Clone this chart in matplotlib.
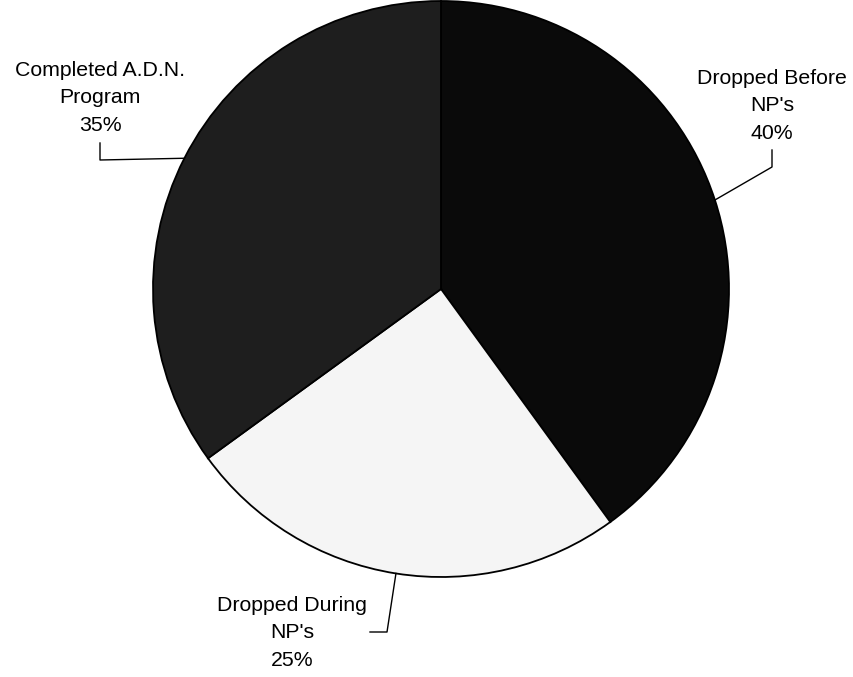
import numpy as np
import matplotlib.pyplot as plt

# pie slices, clockwise from 12 o'clock
labels = ["Dropped Before\nNP's", "Dropped During\nNP's", "Completed A.D.N.\nProgram"]
shares = [40, 25, 35]
colors = ["#0a0a0a", "#f5f5f5", "#1e1e1e"]

plt.rcParams['font.family'] = ['Liberation Sans', 'DejaVu Sans']

W, H = 854, 677
fig = plt.figure(figsize=(W / 100, H / 100), dpi=100)
ax = fig.add_axes([0, 0, 1, 1])

cx, cy, r = 441, H - 289, 288
wedges, _ = ax.pie(shares, colors=colors, startangle=90, counterclock=False,
                   center=(cx, cy), radius=r, frame=True,
                   wedgeprops=dict(edgecolor='black', linewidth=1.3))
ax.set_xlim(0, W)
ax.set_ylim(0, H)
ax.set_aspect('equal')
ax.axis('off')

# label placement: text centre x, text top y, leader elbow and tail (pixels)
label_pos = [
    dict(tx=772, ty=H - 69, elbow=(772, H - 167), tail=(772, H - 150)),
    dict(tx=292, ty=H - 596, elbow=(387, H - 632), tail=(370, H - 632)),
    dict(tx=100, ty=H - 61, elbow=(100, H - 160), tail=(100, H - 143)),
]

for w, lab, val, lp in zip(wedges, labels, shares, label_pos):
    mid = np.deg2rad((w.theta1 + w.theta2) / 2)
    ex, ey = cx + r * np.cos(mid), cy + r * np.sin(mid)
    ax.plot([ex, lp['elbow'][0], lp['tail'][0]], [ey, lp['elbow'][1], lp['tail'][1]],
            color='black', linewidth=1.0)
    ax.text(lp['tx'], lp['ty'], f"{lab}\n{val}%", ha='center', va='top',
            fontsize=15.3, linespacing=1.56)

fig.savefig('out.png', dpi=100)
